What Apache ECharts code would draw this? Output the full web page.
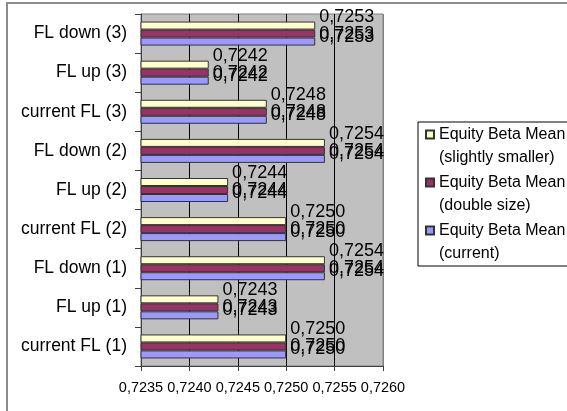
<!DOCTYPE html>
<html>
<head>
<meta charset="utf-8">
<script src="https://cdn.jsdelivr.net/npm/echarts@6/dist/echarts.min.js"></script>
<style>
  html, body { margin: 0; padding: 0; background: #fff; }
  #chart { width: 567px; height: 411px; }
</style>
</head>
<body>
<div id="chart"></div>
<script>
// Categories, listed from the bottom of the axis to the top
const categories = [
  'current FL (1)', 'FL up (1)', 'FL down (1)',
  'current FL (2)', 'FL up (2)', 'FL down (2)',
  'current FL (3)', 'FL up (3)', 'FL down (3)'
];

// Equity beta means per scenario
const slightlySmaller = [0.7250, 0.7243, 0.7254, 0.7250, 0.7244, 0.7254, 0.7248, 0.7242, 0.7253];
const doubleSize      = [0.7250, 0.7243, 0.7254, 0.7250, 0.7244, 0.7254, 0.7248, 0.7242, 0.7253];
const currentSize     = [0.7250, 0.7243, 0.7254, 0.7250, 0.7244, 0.7254, 0.7248, 0.7242, 0.7253];

const seriesNames = [
  'Equity Beta Mean\n(slightly smaller)',
  'Equity Beta Mean\n(double size)',
  'Equity Beta Mean\n(current)'
];

// Value axis range
const axisMin = 0.7235;
const axisMax = 0.7260;
const axisStep = 0.0005;

const FONT = '"Liberation Sans", Arial, sans-serif';
const fmt = v => Number(v).toFixed(4).replace('.', ',');

function barSeries(name, data, color, dy) {
  return {
    name: name,
    type: 'bar',
    data: data,
    barWidth: 8,
    barGap: '0%',
    itemStyle: { color: color, borderColor: '#333', borderWidth: 1 },
    label: {
      show: true,
      position: 'right',
      distance: 4,
      offset: [0, dy],
      color: '#000',
      fontFamily: FONT,
      fontSize: 18,
      formatter: p => fmt(p.value)
    },
    emphasis: { disabled: true }
  };
}

const chart = echarts.init(document.getElementById('chart'), null, { renderer: 'canvas' });

chart.setOption({
  animation: false,
  backgroundColor: '#fff',
  textStyle: { fontFamily: FONT },
  grid: {
    left: 141, right: 184, top: 14, bottom: 45,
    show: true,
    backgroundColor: '#c0c0c0',
    borderColor: '#808080',
    borderWidth: 1
  },
  xAxis: {
    type: 'value',
    min: axisMin,
    max: axisMax,
    interval: axisStep,
    axisLine: { show: true, lineStyle: { color: '#404040', width: 1 } },
    axisTick: { show: true, length: 5, lineStyle: { color: '#404040' } },
    axisLabel: {
      margin: 14,
      color: '#000',
      fontFamily: FONT,
      fontSize: 14.5,
      formatter: v => fmt(v)
    },
    splitLine: {
      show: true,
      lineStyle: { color: ['#000', '#000', '#000', '#000', '#000', '#808080'], width: 1 }
    }
  },
  yAxis: {
    type: 'category',
    data: categories,
    axisLine: { show: true, lineStyle: { color: '#404040', width: 1 } },
    axisTick: { show: true, length: 6, lineStyle: { color: '#404040' } },
    axisLabel: {
      margin: 14,
      color: '#000',
      fontFamily: FONT,
      fontSize: 17.5
    },
    splitLine: { show: false }
  },
  legend: {
    orient: 'vertical',
    left: 418,
    top: 122,
    padding: [0, 60, 0, 7],
    itemGap: 0,
    itemWidth: 8,
    itemHeight: 46,
    icon: 'path://M0,0M0,46M0,7.5h8v8h-8z',
    backgroundColor: '#fff',
    borderColor: '#000',
    borderWidth: 1,
    selectedMode: false,
    textStyle: { color: '#000', fontFamily: FONT, fontSize: 16, lineHeight: 23 },
    data: seriesNames
  },
  graphic: [{
    type: 'rect',
    silent: true,
    shape: { x: 7, y: 3, width: 620, height: 500 },
    style: { fill: 'none', stroke: '#8c8c8c', lineWidth: 2 }
  }],
  series: [
    barSeries(seriesNames[0], slightlySmaller, '#ffffcc', -9),
    barSeries(seriesNames[1], doubleSize, '#993366', 0),
    barSeries(seriesNames[2], currentSize, '#9999ff', -5)
  ]
});
</script>
</body>
</html>
